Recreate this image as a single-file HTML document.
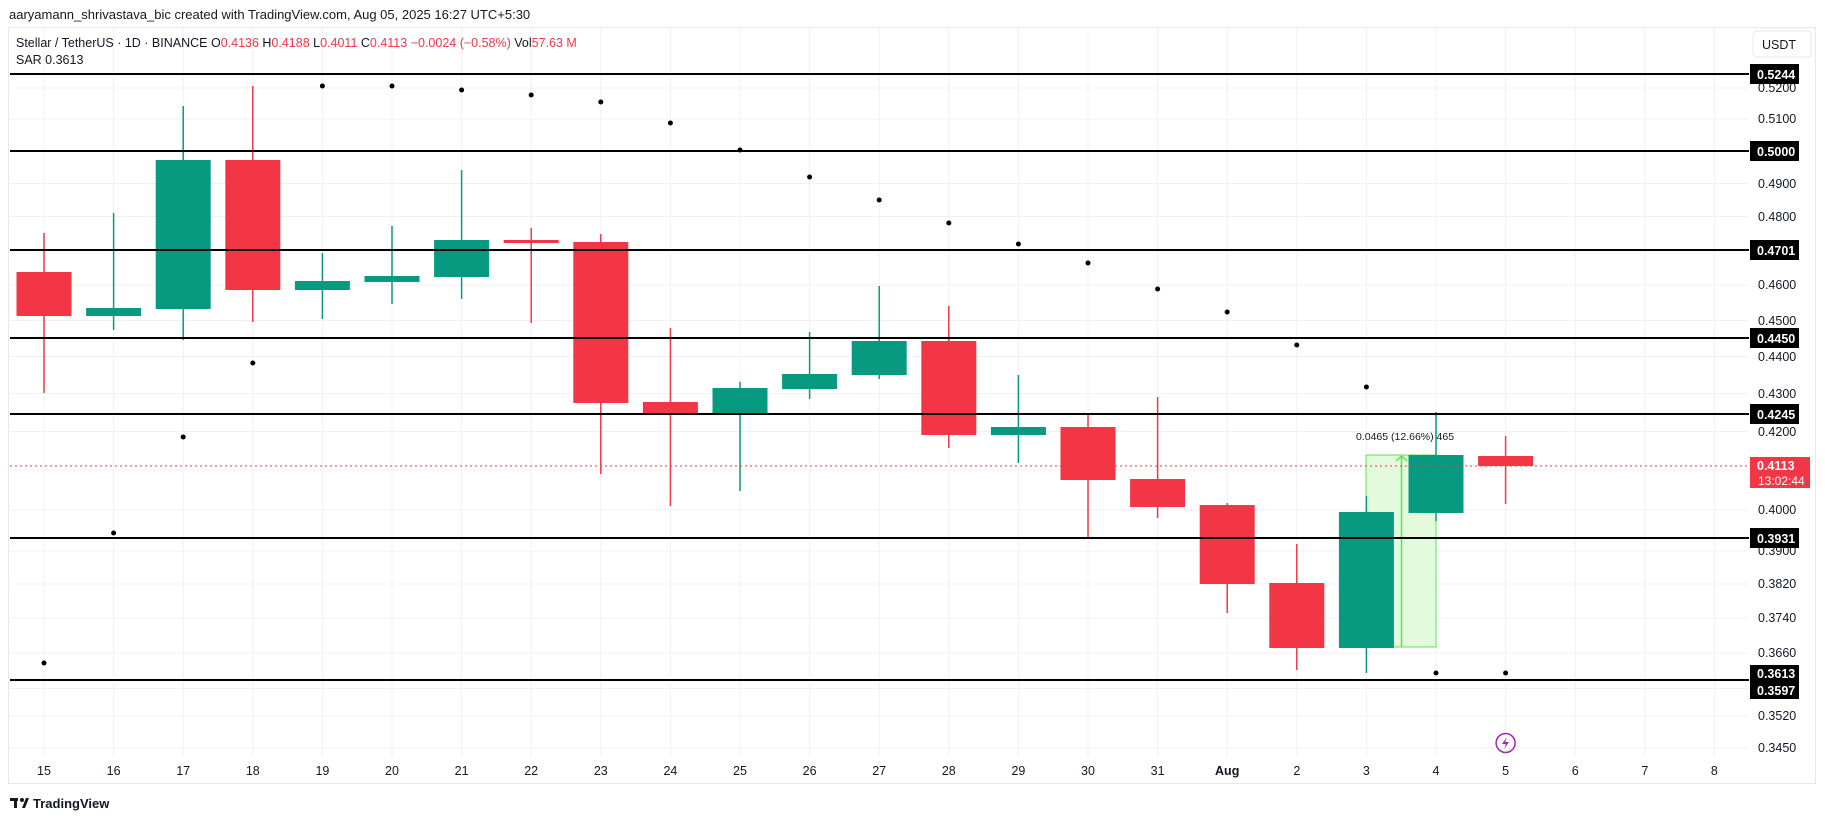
<!DOCTYPE html>
<html><head><meta charset="utf-8"><style>
html,body{margin:0;padding:0;background:#fff;}
svg{display:block;font-family:"Liberation Sans",sans-serif;}
</style></head><body>
<svg width="1825" height="819" viewBox="0 0 1825 819" xmlns="http://www.w3.org/2000/svg">
<rect width="1825" height="819" fill="#fff"/>
<text x="9" y="19" font-size="13" fill="#131722">aaryamann_shrivastava_bic created with TradingView.com, Aug 05, 2025 16:27 UTC+5:30</text>
<rect x="8.5" y="27.5" width="1807" height="756" fill="none" stroke="#e8e8ea"/>
<g stroke="#f0f1f3" stroke-width="1">
<line x1="10" x2="1748" y1="88" y2="88"/><line x1="10" x2="1748" y1="119" y2="119"/>
<line x1="10" x2="1748" y1="183.5" y2="183.5"/><line x1="10" x2="1748" y1="216.5" y2="216.5"/>
<line x1="10" x2="1748" y1="285" y2="285"/><line x1="10" x2="1748" y1="320.5" y2="320.5"/>
<line x1="10" x2="1748" y1="356.5" y2="356.5"/><line x1="10" x2="1748" y1="393.5" y2="393.5"/>
<line x1="10" x2="1748" y1="431.5" y2="431.5"/><line x1="10" x2="1748" y1="470" y2="470"/>
<line x1="10" x2="1748" y1="510" y2="510"/><line x1="10" x2="1748" y1="551" y2="551"/>
<line x1="10" x2="1748" y1="584" y2="584"/><line x1="10" x2="1748" y1="618" y2="618"/>
<line x1="10" x2="1748" y1="653" y2="653"/><line x1="10" x2="1748" y1="688.5" y2="688.5"/>
<line x1="10" x2="1748" y1="716" y2="716"/><line x1="10" x2="1748" y1="748" y2="748"/>
<line y1="28" y2="757" x1="44" x2="44"/><line y1="28" y2="757" x1="113.6" x2="113.6"/>
<line y1="28" y2="757" x1="183.2" x2="183.2"/><line y1="28" y2="757" x1="252.8" x2="252.8"/>
<line y1="28" y2="757" x1="322.4" x2="322.4"/><line y1="28" y2="757" x1="392" x2="392"/>
<line y1="28" y2="757" x1="461.6" x2="461.6"/><line y1="28" y2="757" x1="531.2" x2="531.2"/>
<line y1="28" y2="757" x1="600.8" x2="600.8"/><line y1="28" y2="757" x1="670.4" x2="670.4"/>
<line y1="28" y2="757" x1="740" x2="740"/><line y1="28" y2="757" x1="809.6" x2="809.6"/>
<line y1="28" y2="757" x1="879.2" x2="879.2"/><line y1="28" y2="757" x1="948.8" x2="948.8"/>
<line y1="28" y2="757" x1="1018.4" x2="1018.4"/><line y1="28" y2="757" x1="1088" x2="1088"/>
<line y1="28" y2="757" x1="1157.6" x2="1157.6"/><line y1="28" y2="757" x1="1227.2" x2="1227.2"/>
<line y1="28" y2="757" x1="1296.8" x2="1296.8"/><line y1="28" y2="757" x1="1366.4" x2="1366.4"/>
<line y1="28" y2="757" x1="1436" x2="1436"/><line y1="28" y2="757" x1="1505.6" x2="1505.6"/>
<line y1="28" y2="757" x1="1575.2" x2="1575.2"/><line y1="28" y2="757" x1="1644.8" x2="1644.8"/>
<line y1="28" y2="757" x1="1714.4" x2="1714.4"/>
</g>
<text x="16" y="47" font-size="12.5" fill="#131722">Stellar / TetherUS · 1D · BINANCE  O<tspan fill="#f23645">0.4136</tspan>  H<tspan fill="#f23645">0.4188</tspan>  L<tspan fill="#f23645">0.4011</tspan>  C<tspan fill="#f23645">0.4113</tspan>  <tspan fill="#f23645">−0.0024 (−0.58%)</tspan>  Vol<tspan fill="#f23645">57.63 M</tspan></text>
<text x="16" y="64" font-size="12.5" fill="#131722">SAR  0.3613</text>
<!-- measure -->
<rect x="1366" y="455" width="70" height="192" fill="#e3fbdc" stroke="#5ee34f" stroke-width="1"/>
<line x1="1401.5" x2="1401.5" y1="456" y2="647" stroke="#5ee34f" stroke-width="1.5"/>
<polyline points="1396,461 1401.5,456 1407,461" fill="none" stroke="#5ee34f" stroke-width="1.5"/>
<text x="1356" y="440" font-size="10.5" fill="#131722">0.0465 (12.66%) 465</text>
<!-- candles -->
<g stroke-width="1.5">
<line x1="44" x2="44" y1="233" y2="393" stroke="#f23645"/><rect x="16.5" y="272" width="55" height="44" fill="#f23645"/>
<line x1="113.6" x2="113.6" y1="213" y2="330" stroke="#089981"/><rect x="86.1" y="308" width="55" height="8" fill="#089981"/>
<line x1="183.2" x2="183.2" y1="106" y2="340" stroke="#089981"/><rect x="155.7" y="160" width="55" height="149" fill="#089981"/>
<line x1="252.8" x2="252.8" y1="86" y2="322" stroke="#f23645"/><rect x="225.3" y="160" width="55" height="130" fill="#f23645"/>
<line x1="322.4" x2="322.4" y1="253" y2="319" stroke="#089981"/><rect x="294.9" y="281" width="55" height="9" fill="#089981"/>
<line x1="392" x2="392" y1="226" y2="304" stroke="#089981"/><rect x="364.5" y="276" width="55" height="6" fill="#089981"/>
<line x1="461.6" x2="461.6" y1="170" y2="299" stroke="#089981"/><rect x="434.1" y="240" width="55" height="37" fill="#089981"/>
<line x1="531.2" x2="531.2" y1="228" y2="323" stroke="#f23645"/><rect x="503.7" y="240" width="55" height="3" fill="#f23645"/>
<line x1="600.8" x2="600.8" y1="234" y2="474" stroke="#f23645"/><rect x="573.3" y="242" width="55" height="161" fill="#f23645"/>
<line x1="670.4" x2="670.4" y1="328" y2="506" stroke="#f23645"/><rect x="642.9" y="402" width="55" height="13" fill="#f23645"/>
<line x1="740" x2="740" y1="382" y2="491" stroke="#089981"/><rect x="712.5" y="388" width="55" height="27" fill="#089981"/>
<line x1="809.6" x2="809.6" y1="332" y2="399" stroke="#089981"/><rect x="782.1" y="374" width="55" height="15" fill="#089981"/>
<line x1="879.2" x2="879.2" y1="286" y2="379" stroke="#089981"/><rect x="851.7" y="341" width="55" height="34" fill="#089981"/>
<line x1="948.8" x2="948.8" y1="306" y2="448" stroke="#f23645"/><rect x="921.3" y="341" width="55" height="94" fill="#f23645"/>
<line x1="1018.4" x2="1018.4" y1="375" y2="463" stroke="#089981"/><rect x="990.9" y="427" width="55" height="8" fill="#089981"/>
<line x1="1088" x2="1088" y1="414" y2="539" stroke="#f23645"/><rect x="1060.5" y="427" width="55" height="53" fill="#f23645"/>
<line x1="1157.6" x2="1157.6" y1="397" y2="518" stroke="#f23645"/><rect x="1130.1" y="479" width="55" height="28" fill="#f23645"/>
<line x1="1227.2" x2="1227.2" y1="503" y2="613" stroke="#f23645"/><rect x="1199.7" y="505" width="55" height="79" fill="#f23645"/>
<line x1="1296.8" x2="1296.8" y1="544" y2="670" stroke="#f23645"/><rect x="1269.3" y="583" width="55" height="65" fill="#f23645"/>
<line x1="1366.4" x2="1366.4" y1="496" y2="673" stroke="#089981"/><rect x="1338.9" y="512" width="55" height="136" fill="#089981"/>
<line x1="1436" x2="1436" y1="412" y2="521" stroke="#089981"/><rect x="1408.5" y="455" width="55" height="58" fill="#089981"/>
<line x1="1505.6" x2="1505.6" y1="436" y2="504" stroke="#f23645"/><rect x="1478.1" y="456" width="55" height="10" fill="#f23645"/>
</g>
<!-- SAR dots -->
<g fill="#000">
<circle cx="44" cy="663" r="2.5"/><circle cx="113.6" cy="533" r="2.5"/><circle cx="183.2" cy="437" r="2.5"/>
<circle cx="252.8" cy="363" r="2.5"/><circle cx="322.4" cy="86" r="2.5"/><circle cx="392" cy="86" r="2.5"/>
<circle cx="461.6" cy="90" r="2.5"/><circle cx="531.2" cy="95" r="2.5"/><circle cx="600.8" cy="102" r="2.5"/>
<circle cx="670.4" cy="123" r="2.5"/><circle cx="740" cy="150" r="2.5"/><circle cx="809.6" cy="177" r="2.5"/>
<circle cx="879.2" cy="200" r="2.5"/><circle cx="948.8" cy="223" r="2.5"/><circle cx="1018.4" cy="244" r="2.5"/>
<circle cx="1088" cy="263" r="2.5"/><circle cx="1157.6" cy="289" r="2.5"/><circle cx="1227.2" cy="312" r="2.5"/>
<circle cx="1296.8" cy="345" r="2.5"/><circle cx="1366.4" cy="387" r="2.5"/><circle cx="1436" cy="673" r="2.5"/>
<circle cx="1505.6" cy="673" r="2.5"/>
</g>
<!-- horizontal levels -->
<g stroke="#000" stroke-width="2">
<line x1="10" x2="1749" y1="74" y2="74"/><line x1="10" x2="1749" y1="151" y2="151"/>
<line x1="10" x2="1749" y1="250" y2="250"/><line x1="10" x2="1749" y1="338" y2="338"/>
<line x1="10" x2="1749" y1="414" y2="414"/><line x1="10" x2="1749" y1="538" y2="538"/>
<line x1="10" x2="1749" y1="680" y2="680"/>
</g>
<line x1="10" x2="1749" y1="466" y2="466" stroke="#f23645" stroke-width="1" stroke-dasharray="2,3"/>
<!-- price axis -->
<g font-size="12.5" fill="#131722">
<text x="1758" y="92">0.5200</text><text x="1758" y="123">0.5100</text>
<text x="1758" y="188">0.4900</text><text x="1758" y="221">0.4800</text>
<text x="1758" y="289">0.4600</text><text x="1758" y="325">0.4500</text>
<text x="1758" y="361">0.4400</text><text x="1758" y="398">0.4300</text>
<text x="1758" y="436">0.4200</text><text x="1758" y="514">0.4000</text>
<text x="1758" y="555">0.3900</text><text x="1758" y="588">0.3820</text>
<text x="1758" y="622">0.3740</text><text x="1758" y="657">0.3660</text>
<text x="1758" y="720">0.3520</text><text x="1758" y="752">0.3450</text>
</g>
<rect x="1753" y="31" width="58" height="26" rx="4" fill="#fff" stroke="#e8e8ea"/>
<text x="1762" y="49" font-size="12.5" fill="#131722">USDT</text>
<g font-size="12.5" font-weight="bold" fill="#fff">
<rect x="1750" y="64" width="49" height="20" fill="#000"/><text x="1757" y="79">0.5244</text>
<rect x="1750" y="141" width="49" height="20" fill="#000"/><text x="1757" y="156">0.5000</text>
<rect x="1750" y="240" width="49" height="20" fill="#000"/><text x="1757" y="255">0.4701</text>
<rect x="1750" y="328" width="49" height="20" fill="#000"/><text x="1757" y="343">0.4450</text>
<rect x="1750" y="404" width="49" height="20" fill="#000"/><text x="1757" y="419">0.4245</text>
<rect x="1750" y="528" width="49" height="20" fill="#000"/><text x="1757" y="543">0.3931</text>
<rect x="1750" y="665" width="49" height="34" fill="#000"/><text x="1757" y="678">0.3613</text><text x="1757" y="695">0.3597</text>
<rect x="1750" y="457" width="60" height="31" fill="#f23645"/><text x="1757" y="470">0.4113</text>
<text x="1758" y="485" font-weight="normal" font-size="12">13:02:44</text>
</g>
<!-- time axis -->
<g font-size="12.5" fill="#131722" text-anchor="middle">
<text x="44" y="775">15</text><text x="113.6" y="775">16</text><text x="183.2" y="775">17</text>
<text x="252.8" y="775">18</text><text x="322.4" y="775">19</text><text x="392" y="775">20</text>
<text x="461.6" y="775">21</text><text x="531.2" y="775">22</text><text x="600.8" y="775">23</text>
<text x="670.4" y="775">24</text><text x="740" y="775">25</text><text x="809.6" y="775">26</text>
<text x="879.2" y="775">27</text><text x="948.8" y="775">28</text><text x="1018.4" y="775">29</text>
<text x="1088" y="775">30</text><text x="1157.6" y="775">31</text><text x="1227.2" y="775" font-weight="bold">Aug</text>
<text x="1296.8" y="775">2</text><text x="1366.4" y="775">3</text><text x="1436" y="775">4</text>
<text x="1505.6" y="775">5</text><text x="1575.2" y="775">6</text><text x="1644.8" y="775">7</text>
<text x="1714.4" y="775">8</text>
</g>
<circle cx="1505.6" cy="743" r="9.5" fill="none" stroke="#9c27b0" stroke-width="1.5"/>
<path d="M1507 737 L1502 744 L1506 744 L1504 749 L1509 742 L1505 742 Z" fill="#9c27b0"/>
<!-- logo -->
<g fill="#131722">
<rect x="10" y="798" width="8" height="3"/><rect x="14" y="798" width="3" height="10"/>
<circle cx="22" cy="800" r="2"/><path d="M22 808 L26 798 L29 798 L25 808 Z"/>
</g>
<text x="33" y="808" font-size="13" font-weight="bold" fill="#131722">TradingView</text>
</svg>
</body></html>
